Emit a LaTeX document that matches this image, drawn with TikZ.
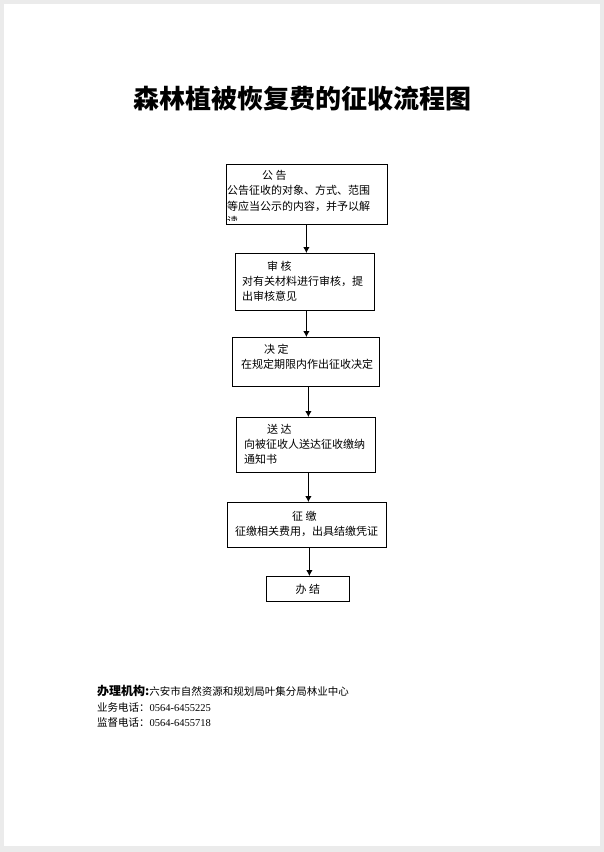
\documentclass[tikz,border=0pt]{standalone}
\usepackage{fontspec}
\setmainfont{Liberation Serif}
\newfontfamily\cjk{Noto Sans CJK SC}
\usetikzlibrary{arrows.meta}

\tikzset{
  stepbox/.style={draw, line width=0.8pt, anchor=north west, inner sep=0pt},
  steptext/.style={anchor=north west, align=left, inner sep=0pt, font=\cjk\fontsize{11}{15}\selectfont},
  flow/.style={-{Latex[length=6pt,width=6.5pt]}, line width=0.9pt},
}

\begin{document}
\begin{tikzpicture}[x=1pt,y=-1pt]
\fill[black!8] (0,0) rectangle (604,852);
\fill[white] (4,4) rectangle (600,846);
\useasboundingbox (0,0) rectangle (604,852);

\node[font=\cjk\bfseries\fontsize{26}{26}\selectfont] (title) at (302,99) {森林植被恢复费的征收流程图};

% boxes
\node[stepbox, minimum width=161, minimum height=60] (gonggao) at (226,164) {};
\node[stepbox, minimum width=139, minimum height=57] (shenhe) at (235,253) {};
\node[stepbox, minimum width=147, minimum height=49] (jueding) at (232,337) {};
\node[stepbox, minimum width=139, minimum height=55] (songda) at (236,417) {};
\node[stepbox, minimum width=159, minimum height=45] (zhengjiao) at (227,502) {};
\node[stepbox, minimum width=83, minimum height=25, font=\cjk\fontsize{11}{15}\selectfont] (banjie) at (266,576) {办 结};

% texts
\begin{scope}
\clip (gonggao.north west) rectangle ([yshift=4pt]gonggao.south east);
\node[steptext, font=\cjk\fontsize{11}{15.5}\selectfont] (gonggaotxt) at (227,170) {\hspace*{35pt}公 告\\公告征收的对象、方式、范围\\等应当公示的内容，并予以解\\读};
\end{scope}
\node[steptext] (shenhetxt) at (242,260.5) {\hspace*{25pt}审 核\\对有关材料进行审核，提\\出审核意见};
\node[steptext] (juedingtxt) at (241,344) {\hspace*{23pt}决 定\\在规定期限内作出征收决定};
\node[steptext] (songdatxt) at (244,424) {\hspace*{23pt}送 达\\向被征收人送达征收缴纳\\通知书};
\node[steptext] (zhengjiaotxt) at (235,511) {\hspace*{57pt}征 缴\\征缴相关费用，出具结缴凭证};

% arrows
\draw[flow] ([xshift=1.5pt]shenhe.north |- gonggao.south) -- ([xshift=1.5pt]shenhe.north);
\draw[flow] ([xshift=0.5pt]jueding.north |- shenhe.south) -- ([xshift=0.5pt]jueding.north);
\draw[flow] ([xshift=2.5pt]songda.north |- jueding.south) -- ([xshift=2.5pt]songda.north);
\draw[flow] ([xshift=1.5pt]zhengjiao.north |- songda.south) -- ([xshift=1.5pt]zhengjiao.north);
\draw[flow] ([xshift=1.5pt]banjie.north |- zhengjiao.south) -- ([xshift=1.5pt]banjie.north);

% footer
\node[anchor=north west, inner sep=0pt, align=left, font=\fontsize{10.5}{15.5}\selectfont] (office) at (97,685.5) {{\cjk\bfseries\fontsize{12}{15.5}\selectfont 办理机构:}{\cjk 六安市自然资源和规划局叶集分局林业中心}\\{\cjk 业务电话：}0564-6455225\\{\cjk 监督电话：}0564-6455718};
\end{tikzpicture}
\end{document}
